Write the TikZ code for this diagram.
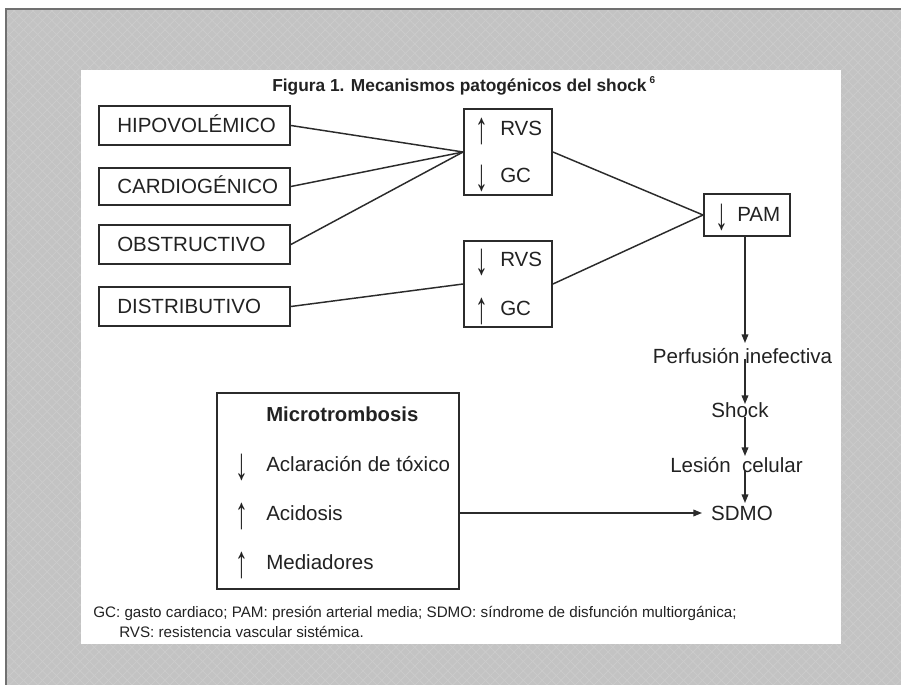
\documentclass[tikz,border=0pt]{standalone}
\usepackage{fontspec}
\setmainfont{Liberation Sans}
\usetikzlibrary{arrows.meta,patterns.meta}
\definecolor{bgc}{HTML}{C3C3C3}
\definecolor{patc}{HTML}{CBCBCB}
\definecolor{framec}{HTML}{707070}
\definecolor{txtc}{HTML}{222222}
\definecolor{linec}{HTML}{2B2B2B}
\newcommand{\upa}{\scalebox{1.25}[2.2]{↑}}
\newcommand{\dna}{\scalebox{1.25}[2.2]{↓}}
\begin{document}
\begin{tikzpicture}[x=0.75pt,y=-0.75pt,
  box/.style={draw=linec, line width=1.4pt, fill=white, inner sep=0pt},
  lbl/.style={text=txtc, font=\fontsize{15.4}{18}\selectfont, inner sep=0pt, text height=11pt, text depth=0pt},
  glyph/.style={text=txtc, font=\fontsize{15.4}{18}\selectfont, inner sep=0pt},
  ttl/.style={text=txtc, font=\bfseries\fontsize{13}{15}\selectfont, inner sep=0pt, text height=9.3pt, text depth=0pt},
  foot/.style={text=txtc, font=\fontsize{11.4}{14}\selectfont, inner sep=0pt, text height=8pt, text depth=0pt},
  conn/.style={draw=linec, line width=1.1pt},
  arr/.style={conn, -{Triangle[length=6.5pt,width=5pt]}},
]
\useasboundingbox (0,0) rectangle (901,685);
% slide background
\fill[white] (0,0) rectangle (901,685);
\fill[bgc] (6,9) rectangle (901,685);
\fill[pattern={Lines[angle=45,distance=5pt,line width=0.6pt]},pattern color=patc] (6,9) rectangle (901,685);
\fill[pattern={Lines[angle=-45,distance=5pt,line width=0.6pt]},pattern color=patc] (6,9) rectangle (901,685);
\draw[framec, line width=1.2pt] (6,686) -- (6,9) -- (902,9);
\fill[white] (81,70) rectangle (841,644);

% title
\node[ttl, anchor=west] (title) at (272,85) {Figura 1. Mecanismos patogénicos del shock\,\raisebox{0.45em}{\fontsize{7.5}{9}\selectfont 6}};

% left boxes
\node[box, minimum width=143.25pt, minimum height=29.25pt] (hipo)   at (194.5,125.5) {};
\node[box, minimum width=143.25pt, minimum height=27.75pt] (cardio) at (194.5,186.5) {};
\node[box, minimum width=143.25pt, minimum height=29.25pt] (obst)   at (194.5,244.5) {};
\node[box, minimum width=143.25pt, minimum height=29.25pt] (dist)   at (194.5,306.5) {};
\node[lbl, anchor=west] (hipoT)   at (117,125.5) {HIPOVOLÉMICO};
\node[lbl, anchor=west] (cardioT) at (117,186.5) {CARDIOGÉNICO};
\node[lbl, anchor=west] (obstT)   at (117,244.5) {OBSTRUCTIVO};
\node[lbl, anchor=west] (distT)   at (117,306.5) {DISTRIBUTIVO};

% middle boxes
\node[box, minimum width=66pt, minimum height=64.5pt] (rvs1) at (508,152) {};
\node[glyph] (up1) at (482,131.5) {\upa};
\node[lbl, anchor=west] (rvs1a) at (500,128.5) {RVS};
\node[glyph] (dn1) at (482,178) {\dna};
\node[lbl, anchor=west] (rvs1b) at (500,175.5) {GC};

\node[box, minimum width=66pt, minimum height=64.5pt] (rvs2) at (508,284) {};
\node[glyph] (dn2) at (482,262) {\dna};
\node[lbl, anchor=west] (rvs2a) at (500,259) {RVS};
\node[glyph] (up2) at (482,311) {\upa};
\node[lbl, anchor=west] (rvs2b) at (500,308) {GC};

% PAM
\node[box, minimum width=64.5pt, minimum height=31.5pt] (pam) at (747,215) {};
\node[glyph] (dnp) at (722,217) {\dna};
\node[lbl, anchor=west] (pamT) at (737,214.5) {PAM};

% chain texts
\node[lbl] (perf)   at (742.5,356) {Perfusión inefectiva};
\node[lbl] (shock)  at (740,410) {Shock};
\node[lbl] (lesion) at (736.5,465) {Lesión~ celular};
\node[lbl] (sdmo)   at (742,513) {SDMO};

% micro box
\node[box, minimum width=181.5pt, minimum height=147pt] (micro) at (338,491) {};
\node[lbl, anchor=west, font=\bfseries\fontsize{15.2}{18}\selectfont] (microT) at (266,414) {Microtrombosis};
\node[glyph] (dnm) at (242,467) {\dna};
\node[lbl, anchor=west] (acl) at (266,464) {Aclaración de tóxico};
\node[glyph] (upm1) at (242,516) {\upa};
\node[lbl, anchor=west] (acid) at (266,513) {Acidosis};
\node[glyph] (upm2) at (242,565) {\upa};
\node[lbl, anchor=west] (medi) at (266,562) {Mediadores};

% footnote
\node[foot, anchor=west] (foot1) at (93,612) {GC: gasto cardiaco; PAM: presión arterial media; SDMO: síndrome de disfunción multiorgánica;};
\node[foot, anchor=west] (foot2) at (119,632) {RVS: resistencia vascular sistémica.};

% connectors
\draw[conn] (hipo.east) -- (rvs1.west);
\draw[conn] (cardio.east) -- (rvs1.west);
\draw[conn] (obst.east) -- (rvs1.west);
\draw[conn] (dist.east) -- (rvs2.west);
\draw[conn] (rvs1.east) -- (pam.west);
\draw[conn] (rvs2.east) -- (pam.west);

\coordinate (k1) at (745,343);
\coordinate (k2s) at (745,359);
\coordinate (k2) at (745,404);
\coordinate (k3s) at (745,417);
\coordinate (k3) at (745,456);
\coordinate (k4s) at (745,470);
\coordinate (k4) at (745,503);
\coordinate (k5) at (702,513);
\draw[arr] (pam.south -| k1) -- (k1);
\draw[arr] (k2s) -- (k2);
\draw[arr] (k3s) -- (k3);
\draw[arr] (k4s) -- (k4);
\draw[arr] (micro.east |- sdmo.west) -- (k5);
\end{tikzpicture}
\end{document}
